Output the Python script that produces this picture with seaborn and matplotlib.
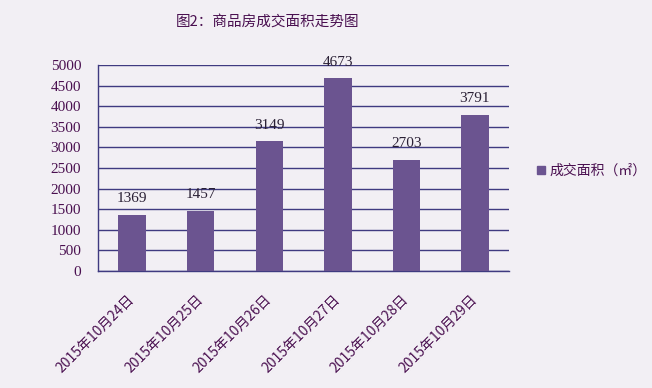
import matplotlib
matplotlib.use("Agg")
import matplotlib.pyplot as plt
import seaborn as sns
import pandas as pd
import numpy as np
from matplotlib.lines import Line2D

dates = ["2015年10月24日", "2015年10月25日", "2015年10月26日",
         "2015年10月27日", "2015年10月28日", "2015年10月29日"]
areas = [1369, 1457, 3149, 4673, 2703, 3791]
yticks = [0, 500, 1000, 1500, 2000, 2500, 3000, 3500, 4000, 4500, 5000]
title = "图2：商品房成交面积走势图"
series_name = "成交面积（㎡）"

sns.set_theme(style="white")
plt.rcParams['font.family'] = ['Noto Sans CJK SC', 'DejaVu Sans']

bg = "#f2eff4"
bar_color = "#6b5490"
text_color = "#4a1050"
axis_color = "#3f3a80"
num_font = ['Liberation Serif', 'DejaVu Serif']

df = pd.DataFrame({"date": dates, "area": areas})

fig = plt.figure(figsize=(6.52, 3.88), dpi=100, facecolor=bg)
ax = fig.add_axes([0.150, 0.3015, 0.631, 0.531])
ax.set_facecolor(bg)

sns.barplot(data=df, x="date", y="area", color=bar_color, width=0.4,
            saturation=1, ax=ax, zorder=3, linewidth=0, edgecolor=bar_color)

ax.set_ylim(0, 5000)
ax.set_xlim(-0.5, len(dates) - 0.5)
ax.set_yticks(yticks)
ax.set_yticklabels([str(v) for v in yticks], fontsize=11, color=text_color,
                   family=num_font)
ax.yaxis.grid(True, color=axis_color, linewidth=1, zorder=0)
ax.set_axisbelow(True)
for s in ["top", "right"]:
    ax.spines[s].set_visible(False)
for s in ["left", "bottom"]:
    ax.spines[s].set_color(axis_color)
    ax.spines[s].set_linewidth(1)
ax.tick_params(axis="y", length=0, pad=12)
ax.set_xticks(range(len(dates)))
ax.set_xticklabels(dates, rotation=45, ha="right", va="center",
                   rotation_mode="anchor", fontsize=10, color=text_color)
ax.tick_params(axis="x", which="major", length=0, pad=19)
ax.set_xticks(np.arange(-0.5, len(dates), 1.0), minor=True)
ax.tick_params(axis="x", which="minor", length=4, color=axis_color, direction="out")
ax.set_xlabel("")
ax.set_ylabel("")

for c in ax.containers:
    ax.bar_label(c, labels=[str(v) for v in areas], padding=7,
                 fontsize=11, color="#2a2035", family=num_font)

fig.text(0.41, 0.945, title, ha="center", va="center", fontsize=10.5, color=text_color)

handle = Line2D([], [], marker="s", linestyle="none", markersize=6,
                markerfacecolor=bar_color, markeredgecolor=bar_color)
fig.legend([handle], [series_name], loc="center left", bbox_to_anchor=(0.80, 0.56),
           frameon=False, fontsize=10, labelcolor=text_color, handletextpad=0.1,
           handlelength=1.0)

fig.savefig("out.png", dpi=100, facecolor=bg)
